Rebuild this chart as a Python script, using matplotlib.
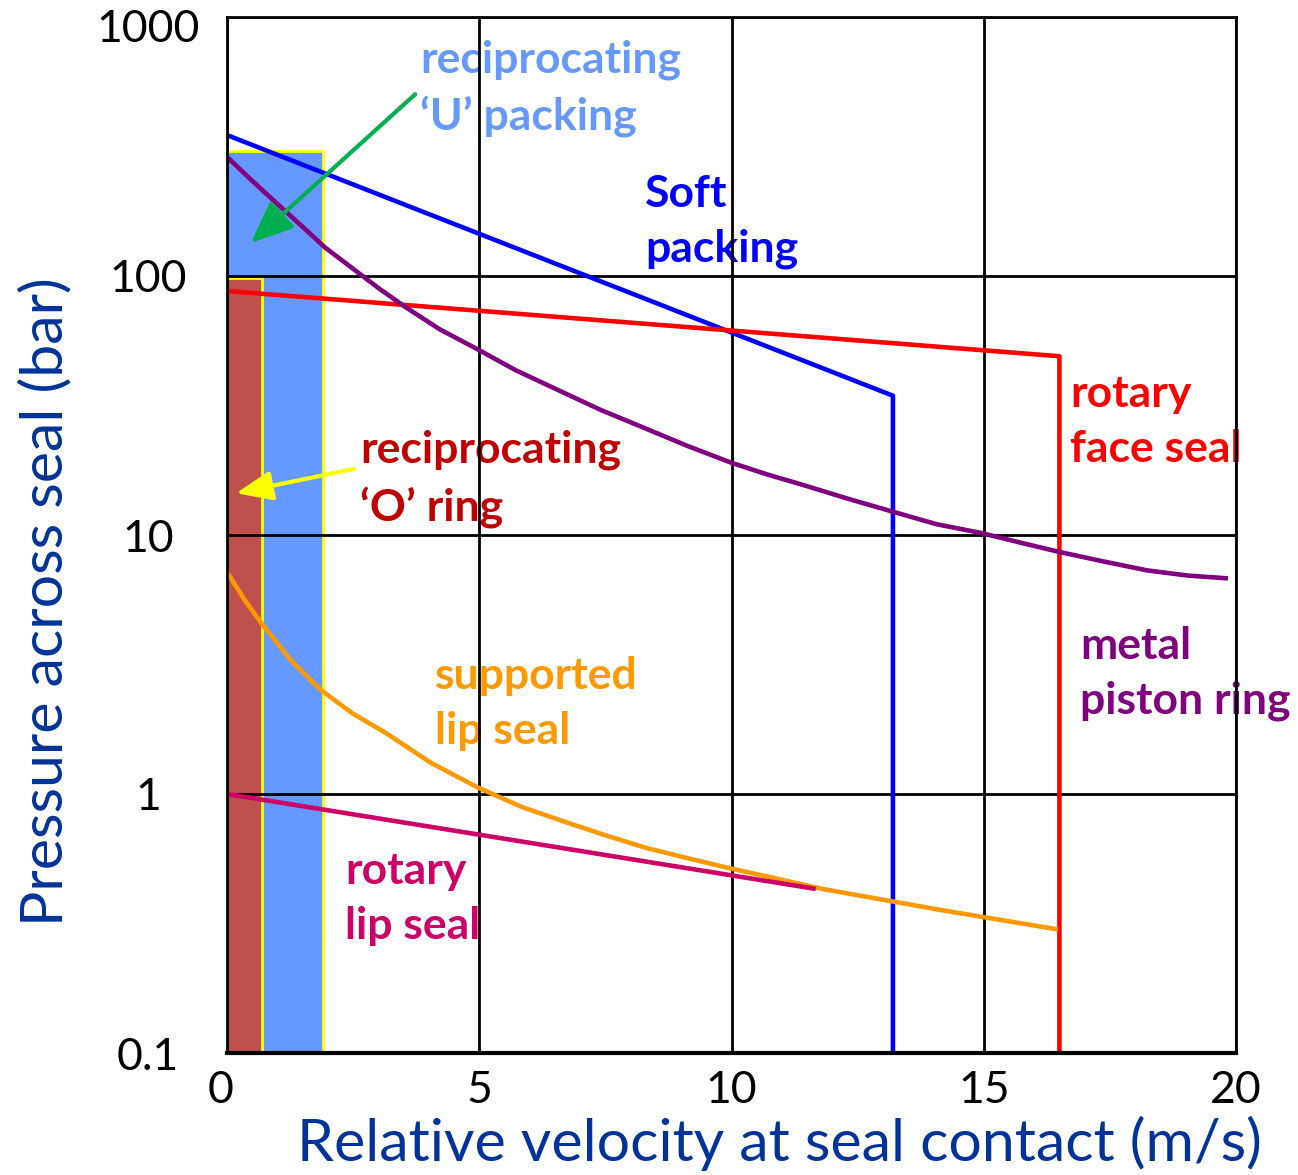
import matplotlib
matplotlib.use('Agg')
import matplotlib.pyplot as plt
from matplotlib.ticker import NullLocator
from matplotlib.transforms import ScaledTranslation

# seal operating limits (velocity m/s, pressure bar)
soft_v = [0, 13.2, 13.2]
soft_p = [350, 34.5, 0.1]

face_v = [0, 16.5, 16.5]
face_p = [87.5, 49, 0.1]

piston_v = [0.02, 0.46, 0.97, 1.45, 1.94, 2.6, 3.03, 3.53, 4.22, 4.92, 5.73, 6.56, 7.39,
            8.23, 9.12, 10.0, 10.72, 11.42, 12.31, 13.2, 14.07, 14.93, 15.72, 16.5,
            17.38, 18.24, 19.05, 19.84]
piston_p = [286, 237, 192, 158, 129, 103, 89, 76, 62.2, 52.7, 43.2, 36.3, 30.5,
            26.1, 22.1, 19.0, 17.1, 15.6, 13.8, 12.3, 11.0, 10.2, 9.35, 8.6,
            7.9, 7.3, 6.97, 6.8]

supp_v = [0, 0.34, 0.68, 1.27, 1.86, 2.5, 3.15, 4.04, 4.97, 5.85, 6.79, 7.53, 8.3,
          9.1, 9.9, 10.84, 11.8, 14.13, 16.47]
supp_p = [7.2, 5.65, 4.57, 3.28, 2.52, 2.04, 1.72, 1.32, 1.06, 0.89, 0.77, 0.69, 0.62,
          0.567, 0.52, 0.474, 0.43, 0.357, 0.30]

lip_v = [0, 11.67]
lip_p = [1.0, 0.43]

# reciprocating seals: max velocity, max pressure
upack_v, upack_p = 1.9, 305
oring_v, oring_p = 0.69, 98
p_min = 0.1

xticks = [0, 5, 10, 15, 20]
yticks = [0.1, 1, 10, 100, 1000]
ytick_labels = ['0.1', '1', '10', '100', '1000']

fig = plt.figure(figsize=(12.98, 11.75), dpi=100)
ax = fig.add_axes([227/1298, 1-1053/1175, 1009/1298, 1036/1175])

ax.bar(0, upack_p - p_min, width=upack_v, bottom=p_min, align='edge',
       color='#6699FF', edgecolor='#FFFF00', linewidth=2, zorder=1)
ax.bar(0, oring_p - p_min, width=oring_v, bottom=p_min, align='edge',
       color='#C0504D', edgecolor='#FFFF00', linewidth=2, zorder=1.1)

lw = 3.3
style = dict(lw=lw, solid_joinstyle='round', solid_capstyle='butt')
ax.plot(soft_v, soft_p, color='#0000FF', zorder=4, **style)
ax.plot(face_v, face_p, color='#FF0000', zorder=4, **style)
ax.plot(piston_v, piston_p, color='#800080', zorder=4, **style)
ax.plot(supp_v, supp_p, color='#FF9900', zorder=4, **style)
ax.plot(lip_v, lip_p, color='#CC0066', zorder=4.1, **style)

ax.set_yscale('log')
ax.set_xlim(0, 20)
ax.set_ylim(0.1, 1000)
ax.yaxis.set_minor_locator(NullLocator())
ax.set_xticks(xticks)
ax.set_yticks(yticks)
ax.set_yticklabels(ytick_labels)
ax.grid(True, color='black', lw=2, zorder=2.5)
ax.set_axisbelow(False)

for s in ax.spines.values():
    s.set_linewidth(2)
    s.set_zorder(5)
ax.spines['bottom'].set_linewidth(3)

ax.tick_params(axis='both', length=0)
ax.tick_params(axis='x', pad=12)
ax.tick_params(axis='y', pad=57)
for t in ax.get_xticklabels():
    t.set_fontfamily('Lato'); t.set_fontsize(32)
for t in ax.get_yticklabels():
    t.set_fontfamily('Lato'); t.set_fontsize(32)
    t.set_horizontalalignment('center')
    t.set_verticalalignment('center_baseline')

# small nudges like the original slide
xl = ax.get_xticklabels()[0]
xl.set_transform(xl.get_transform() + ScaledTranslation(-6/100, 0, fig.dpi_scale_trans))
yl = ax.get_yticklabels()[-1]
yl.set_transform(yl.get_transform() + ScaledTranslation(0, -9/100, fig.dpi_scale_trans))

ax.set_xlabel('Relative velocity at seal contact (m/s)', fontfamily='Lato',
              fontsize=42.5, color='#003399', va='center')
ax.xaxis.set_label_coords(0.548, -0.087)
ax.set_ylabel('Pressure across seal (bar)', fontfamily='Lato',
              fontsize=42.5, color='#003399', va='center')
ax.yaxis.set_label_coords(-0.180, 0.436)

lab = dict(family='Lato', weight='bold', fontsize=32, ha='left', va='center',
           linespacing=1.45, zorder=2)
ax.text(3.83, 530, 'reciprocating\n\u2018U\u2019 packing', color='#6699FF', **lab)
ax.text(8.29, 162, 'Soft\npacking', color='#0000FF', **lab)
ax.text(16.71, 27.4, 'rotary\nface seal', color='#FF0000', **lab)
ax.text(2.64, 16.5, 'reciprocating\n\u2018O\u2019 ring', color='#C00000', **lab)
ax.text(4.12, 2.23, 'supported\nlip seal', color='#FF9900', **lab)
ax.text(16.91, 2.92, 'metal\npiston ring', color='#800080', **lab)
ax.text(2.34, 0.394, 'rotary\nlip seal', color='#CC0066', **lab)

ax.annotate('', xy=(0.47, 134), xytext=(3.73, 503),
            arrowprops=dict(arrowstyle='-|>,head_length=1.3,head_width=0.55',
                            color='#00B050', lw=3, mutation_scale=20,
                            shrinkA=0, shrinkB=0), zorder=6)
ax.annotate('', xy=(0.18, 14.5), xytext=(2.52, 18.0),
            arrowprops=dict(arrowstyle='-|>,head_length=1.1,head_width=0.45',
                            color='#FFFF00', lw=3, mutation_scale=20,
                            shrinkA=0, shrinkB=0), zorder=6)

fig.savefig('out.png', dpi=100)
